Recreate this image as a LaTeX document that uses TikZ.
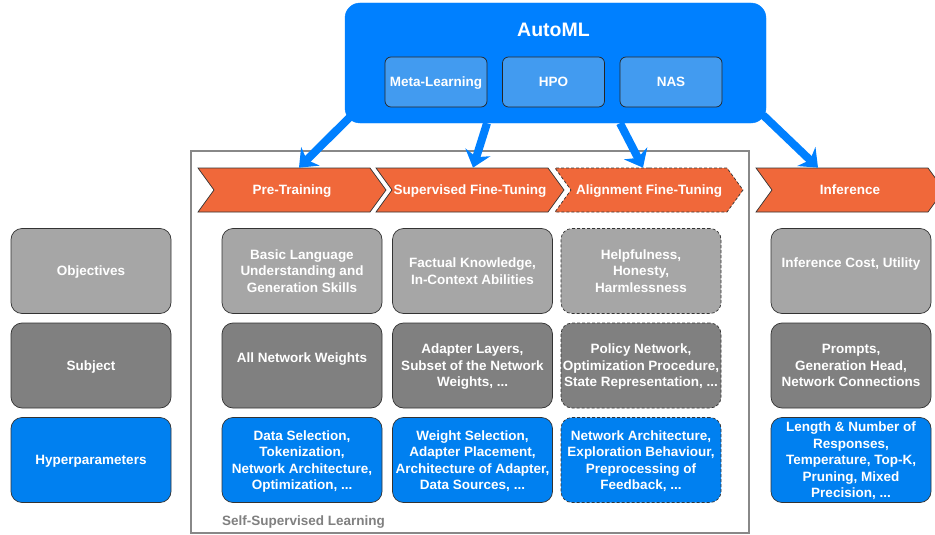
\documentclass[tikz,border=0pt]{standalone}
\usepackage{fontspec}
\setmainfont{Liberation Sans}
\usetikzlibrary{shapes.symbols,arrows.meta}
\definecolor{autoblue}{RGB}{0,128,255}
\definecolor{paleblue}{RGB}{66,155,240}
\definecolor{hyperblue}{RGB}{0,128,240}
\definecolor{objgray}{RGB}{166,166,166}
\definecolor{subjgray}{RGB}{128,128,128}
\definecolor{phaseorange}{RGB}{240,104,58}
\definecolor{framegray}{RGB}{136,136,136}
\begin{document}
\begin{tikzpicture}[x=1pt,y=-1pt]
\tikzset{cell/.style={draw=black!80, line width=0.7pt, rounded corners=11pt, minimum width=160pt, minimum height=85pt, align=center, text=white, inner sep=0pt, text depth=0pt, font=\bfseries\fontsize{13.5}{16.5}\selectfont}}
\tikzset{objcell/.style={cell, fill=objgray}}
\tikzset{subjcell/.style={cell, fill=subjgray}}
\tikzset{hypcell/.style={cell, fill=hyperblue}}
\tikzset{rough/.style={densely dashed}}
\tikzset{phase/.style={signal, signal from=west, signal to=east, signal pointer angle=108, draw=black!80, line width=0.7pt, fill=phaseorange, minimum width=188pt, minimum height=44pt, inner sep=0pt, text depth=0pt, text=white, font=\bfseries\fontsize{13.5}{16}\selectfont}}
\tikzset{method/.style={draw=black!85, line width=0.7pt, rounded corners=6pt, fill=paleblue, minimum width=102pt, minimum height=50pt, text depth=0pt, text=white, font=\bfseries\fontsize{13.5}{16}\selectfont}}
\tikzset{flow/.style={autoblue, line width=8pt, -{Stealth[length=16pt,width=26pt,inset=5pt]}}}
\clip (0,0) rectangle (935,535);
\fill[white] (0,0) rectangle (935,535);
\draw[framegray, line width=2.5pt] (191,151) rectangle (749,533);
\node[draw=autoblue, fill=autoblue, rounded corners=15pt, minimum width=421pt, minimum height=120pt] (auto) at (555.5,63) {};
\node[text=white, text depth=0pt, font=\bfseries\fontsize{19.5}{22}\selectfont] (title) at (553.5,30) {AutoML};
\node[method] (meta) at (436,82) {Meta-Learning};
\node[method] (hpo) at (553.5,82) {HPO};
\node[method] (nas) at (671,82) {NAS};
\node[phase] (pre) at (292,190) {Pre-Training};
\node[phase] (sup) at (470,190) {Supervised Fine-Tuning};
\node[phase, rough] (align) at (649,190) {Alignment Fine-Tuning};
\node[phase] (infer) at (850,190) {Inference};
\draw[flow] ([xshift=7pt, yshift=8pt]auto.south west) -- ([xshift=7pt]pre.north);
\draw[flow] ([xshift=-68.5pt]auto.south) -- ([xshift=3pt]sup.north);
\draw[flow] ([xshift=64.5pt]auto.south) -- ([xshift=-6pt]align.north);
\draw[flow] ([xshift=-3pt, yshift=8pt]auto.south east) -- ([xshift=-32pt]infer.north);
\node[objcell] (obj) at (91,271) {Objectives};
\node[subjcell] (subj) at (91,365.5) {Subject};
\node[hypcell] (hyp) at (91,460) {Hyperparameters};
\node[objcell] (preobj) at (302,271) {Basic Language\\Understanding and\\Generation Skills};
\node[subjcell] (presubj) at (302,365.5) {All Network Weights\\~};
\node[hypcell] (prehyp) at (302,460) {Data Selection,\\Tokenization,\\Network Architecture,\\Optimization, ...};
\node[objcell] (supobj) at (472.5,271) {Factual Knowledge,\\In-Context Abilities};
\node[subjcell] (supsubj) at (472.5,365.5) {Adapter Layers,\\Subset of the Network\\Weights, ...};
\node[hypcell] (suphyp) at (472.5,460) {Weight Selection,\\Adapter Placement,\\Architecture of Adapter,\\Data Sources, ...};
\node[objcell, rough] (alignobj) at (641,271) {Helpfulness,\\Honesty,\\Harmlessness};
\node[subjcell, rough] (alignsubj) at (641,365.5) {Policy Network,\\Optimization Procedure,\\State Representation, ...};
\node[hypcell, rough] (alignhyp) at (641,460) {Network Architecture,\\Exploration Behaviour,\\Preprocessing of\\Feedback, ...};
\node[objcell] (inferobj) at (851,271) {Inference Cost, Utility\\~};
\node[subjcell] (infersubj) at (851,365.5) {Prompts,\\Generation Head,\\Network Connections};
\node[hypcell] (inferhyp) at (851,460) {Length \& Number of\\Responses,\\Temperature, Top-K,\\Pruning, Mixed\\Precision, ...};
\node[anchor=west, inner sep=0pt, text=subjgray, font=\bfseries\fontsize{13.5}{16}\selectfont] (ssl) at (222,522) {Self-Supervised Learning};
\end{tikzpicture}
\end{document}
